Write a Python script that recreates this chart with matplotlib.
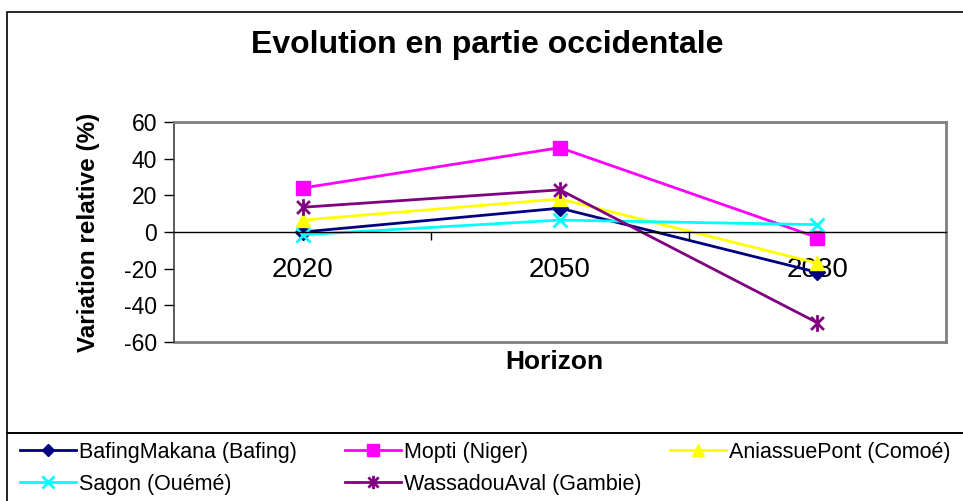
import matplotlib
matplotlib.use("Agg")
import matplotlib.pyplot as plt
from matplotlib.path import Path
from matplotlib.patches import Rectangle

plt.rcParams['font.family'] = ['Liberation Sans', 'DejaVu Sans']
plt.rcParams['axes.unicode_minus'] = False

horizons = ["2020", "2050", "2080"]
bafing = [0, 13, -22]
mopti = [24, 46, -3]
aniassue = [6.5, 18, -17]
sagon = [-1.5, 6.5, 4]
wassadou = [13.5, 23, -49.5]

# asterisk marker: X plus a vertical bar
star = Path([(-1, -1), (1, 1), (-1, 1), (1, -1), (0, -1.3), (0, 1.3)],
            [Path.MOVETO, Path.LINETO, Path.MOVETO, Path.LINETO, Path.MOVETO, Path.LINETO])

series = [
    ("BafingMakana (Bafing)", bafing, "#000080", "D", 8),
    ("Mopti (Niger)", mopti, "#FF00FF", "s", 10),
    ("AniassuePont (Comoé)", aniassue, "#FFFF00", "^", 10),
    ("Sagon (Ouémé)", sagon, "#00FFFF", "x", 10),
    ("WassadouAval (Gambie)", wassadou, "#800080", star, 12),
]

W, H = 963, 501
fig = plt.figure(figsize=(W / 100, H / 100), dpi=100)

def fx(px):
    return px / W

def fy(py):
    return 1 - py / H

# outer chart frame and legend separator
fig.patches.append(Rectangle((fx(7), fy(433)), 1.0, fy(12) - fy(433), transform=fig.transFigure,
                             fill=False, edgecolor="black", lw=1.2, clip_on=False))
fig.patches.append(Rectangle((fx(7), fy(505)), 1.0, fy(433) - fy(505), transform=fig.transFigure,
                             fill=False, edgecolor="black", lw=1.2, clip_on=False))

ax = fig.add_axes([fx(174), fy(342), fx(946) - fx(174), fy(122) - fy(342)])
x = list(range(len(horizons)))
handles = []
for name, vals, col, mk, ms in series:
    h, = ax.plot(x, vals, color=col, lw=2, marker=mk, markersize=ms,
                 markerfacecolor=col, markeredgecolor=col,
                 markeredgewidth=2 if (mk == "x" or mk is star) else 1,
                 label=name, clip_on=False)
    handles.append(h)

ax.set_xlim(-0.5, 2.5)
ax.set_ylim(-60, 60)
ax.set_yticks(range(-60, 61, 20))
ax.tick_params(axis="y", direction="out", length=7, width=1, pad=5, labelsize=16.5, colors="black")

ax.spines["bottom"].set_position(("data", 0))
ax.spines["bottom"].set_color("black")
ax.spines["bottom"].set_linewidth(1)
for s in ("top", "right"):
    ax.spines[s].set_color("#808080")
    ax.spines[s].set_linewidth(2)
ax.spines["left"].set_color("#404040")
ax.spines["left"].set_linewidth(1.2)
ax.axhline(-60, color="#808080", lw=2, clip_on=False)

ax.set_xticks([0.5, 1.5])
ax.set_xticklabels([])
ax.set_xticks(x, minor=True)
ax.set_xticklabels(horizons, minor=True)
ax.tick_params(axis="x", which="major", direction="out", length=6, width=1)
ax.tick_params(axis="x", which="minor", length=0, pad=18, labelsize=20)

fig.text(fx(88), fy(232), "Variation relative (%)", fontsize=17.5, fontweight="bold",
         rotation=90, ha="center", va="center")
fig.text(fx(554), fy(362), "Horizon", fontsize=19, fontweight="bold", ha="center", va="center")
fig.text(fx(487), fy(45), "Evolution en partie occidentale", fontsize=23, fontweight="bold",
         ha="center", va="center")

cols = [([0, 3], 20), ([1, 4], 345), ([2], 670)]
for idx, xpx in cols:
    fig.legend([handles[i] for i in idx], [series[i][0] for i in idx],
               loc="upper left", bbox_to_anchor=(fx(xpx), fy(442)), frameon=False,
               fontsize=15.5, handlelength=2.6, handletextpad=0.15, labelspacing=0.5,
               borderaxespad=0, borderpad=0, markerscale=0.8)

fig.savefig("out.png", dpi=100)
